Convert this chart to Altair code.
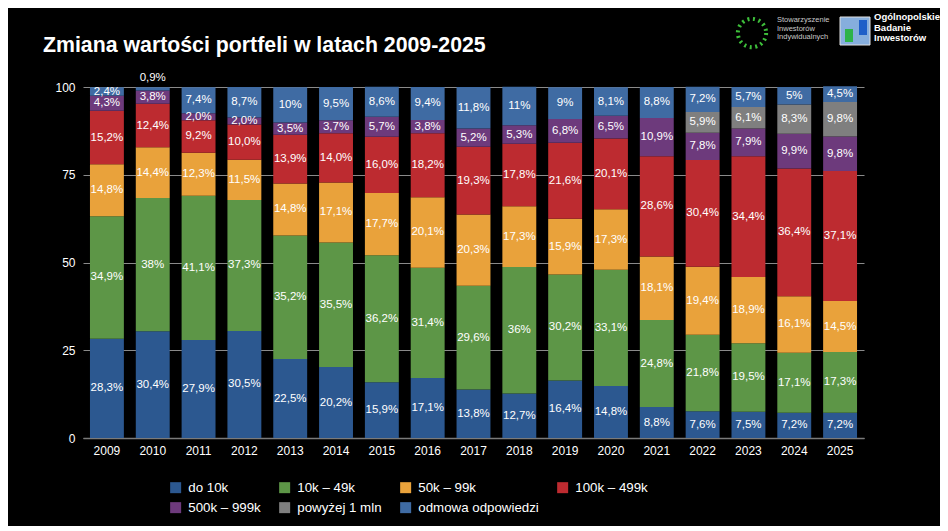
import altair as alt
import pandas as pd

years = [str(y) for y in range(2009, 2026)]
categories = ["do 10k", "10k – 49k", "50k – 99k", "100k – 499k",
              "500k – 999k", "powyżej 1 mln", "odmowa odpowiedzi"]
colors = ["#2C5890", "#5D9647", "#E9A23B", "#BD2B30", "#6D3A7C", "#7F7F7F", "#3F6BA3"]

do10k = ["28,3", "30,4", "27,9", "30,5", "22,5", "20,2", "15,9", "17,1", "13,8", "12,7", "16,4", "14,8", "8,8", "7,6", "7,5", "7,2", "7,2"]
k10_49 = ["34,9", "38", "41,1", "37,3", "35,2", "35,5", "36,2", "31,4", "29,6", "36", "30,2", "33,1", "24,8", "21,8", "19,5", "17,1", "17,3"]
k50_99 = ["14,8", "14,4", "12,3", "11,5", "14,8", "17,1", "17,7", "20,1", "20,3", "17,3", "15,9", "17,3", "18,1", "19,4", "18,9", "16,1", "14,5"]
k100_499 = ["15,2", "12,4", "9,2", "10,0", "13,9", "14,0", "16,0", "18,2", "19,3", "17,8", "21,6", "20,1", "28,6", "30,4", "34,4", "36,4", "37,1"]
k500_999 = ["4,3", "3,8", "2,0", "2,0", "3,5", "3,7", "5,7", "3,8", "5,2", "5,3", "6,8", "6,5", "10,9", "7,8", "7,9", "9,9", "9,8"]
over1mln = [None] * 13 + ["5,9", "6,1", "8,3", "9,8"]
refused = ["2,4", "0,9", "7,4", "8,7", "10", "9,5", "8,6", "9,4", "11,8", "11", "9", "8,1", "8,8", "7,2", "5,7", "5", "4,5"]

series = [do10k, k10_49, k50_99, k100_499, k500_999, over1mln, refused]

title_text = "Zmiana wartości portfeli w latach 2009-2025"

rows = []
for ci, (cat, vals) in enumerate(zip(categories, series)):
    for yr, v in zip(years, vals):
        if v is None:
            continue
        rows.append({"year": yr, "cat": cat, "order": ci,
                     "value": float(v.replace(",", ".")), "label": v + "%"})
df = pd.DataFrame(rows)

FONT = "Liberation Sans"

base = alt.Chart(df).transform_stack(
    stack="value", groupby=["year"], as_=["y0", "y1"],
    sort=[alt.SortField("order", order="ascending")]
).transform_calculate(mid="(datum.y0 + datum.y1) / 2")

xenc = alt.X("year:N", title=None, sort=years,
             scale=alt.Scale(paddingInner=0.26, paddingOuter=0.152),
             axis=alt.Axis(labelColor="white", labelFontSize=12, labelFont=FONT,
                           labelAngle=0, ticks=False, labelPadding=7,
                           domainColor="#7a7a7a", domainWidth=1.5, grid=False))

bars = base.mark_bar().encode(
    x=xenc,
    y=alt.Y("y0:Q", title=None, scale=alt.Scale(domain=[0, 100], nice=False),
            axis=alt.Axis(values=[0, 25, 50, 75, 100], labelColor="white",
                          labelFontSize=12, labelFont=FONT, ticks=False,
                          domain=False, labelPadding=8, gridColor="#8a8a8a",
                          gridWidth=1)),
    y2="y1:Q",
    color=alt.Color("cat:N", scale=alt.Scale(domain=categories, range=colors),
                    legend=alt.Legend(orient="none", legendX=86, legendY=394,
                                      columns=4, direction="horizontal", title=None,
                                      symbolType="square", symbolSize=121,
                                      symbolStrokeWidth=0, symbolOpacity=1,
                                      labelColor="white", labelFontSize=13.3,
                                      labelFont=FONT, labelOffset=6,
                                      columnPadding=17, rowPadding=6, padding=0)),
    order=alt.Order("order:Q"),
)

labels = base.transform_filter("datum.value >= 1.5").mark_text(
    color="white", fontSize=11.5, font=FONT, baseline="middle"
).encode(x=alt.X("year:N", sort=years), y="mid:Q", text="label:N")

small_labels = base.transform_filter("datum.value < 1.5").mark_text(
    color="white", fontSize=11.5, font=FONT, baseline="middle", dy=-9
).encode(x=alt.X("year:N", sort=years), y="y1:Q", text="label:N")

deco = alt.Chart(pd.DataFrame({"a": [0]}))

title = deco.mark_text(text=title_text, font=FONT,
                       fontSize=21.3, fontWeight="bold", color="white",
                       align="left", baseline="alphabetic").encode(
    x=alt.value(-40), y=alt.value(-35))

ring = deco.mark_point(shape="circle", filled=False, size=800, stroke="#3DBE3A",
                       strokeWidth=4, strokeDash=[2, 3.6], opacity=1).encode(
    x=alt.value(669), y=alt.value(-54))
sii_text = deco.mark_text(text="Stowarzyszenie\nInwestorów\nIndywidualnych", lineBreak="\n",
                          lineHeight=8.5, fontSize=7.5, font=FONT, color="#c8c8c8",
                          align="left", baseline="middle").encode(
    x=alt.value(694), y=alt.value(-67))
logo_bg = deco.mark_rect(color="#86AEDD", stroke="#e0e0e0", strokeWidth=1).encode(
    x=alt.value(757), x2=alt.value(787), y=alt.value(-70), y2=alt.value(-42))
logo_g = deco.mark_rect(color="#2DB34A").encode(
    x=alt.value(762), x2=alt.value(770), y=alt.value(-58), y2=alt.value(-45))
logo_b = deco.mark_rect(color="#1F5FC8").encode(
    x=alt.value(776), x2=alt.value(784), y=alt.value(-67), y2=alt.value(-52))
obi_text = deco.mark_text(text="Ogólnopolskie\nBadanie\nInwestorów", lineBreak="\n",
                          lineHeight=10.5, fontSize=9.5, font=FONT, fontWeight="bold",
                          color="white", align="left", baseline="middle").encode(
    x=alt.value(791), y=alt.value(-70))

chart = alt.layer(bars, labels, small_labels, title, ring, sii_text,
                  logo_bg, logo_g, logo_b, obi_text).properties(
    width=781, height=351,
    autosize=alt.AutoSizeParams(type="none"),
    padding={"left": 75, "top": 79, "right": 76, "bottom": 88},
    background="black",
).configure_view(stroke=None)

chart.save("out.html", embed_options={"renderer": "svg", "actions": False})
